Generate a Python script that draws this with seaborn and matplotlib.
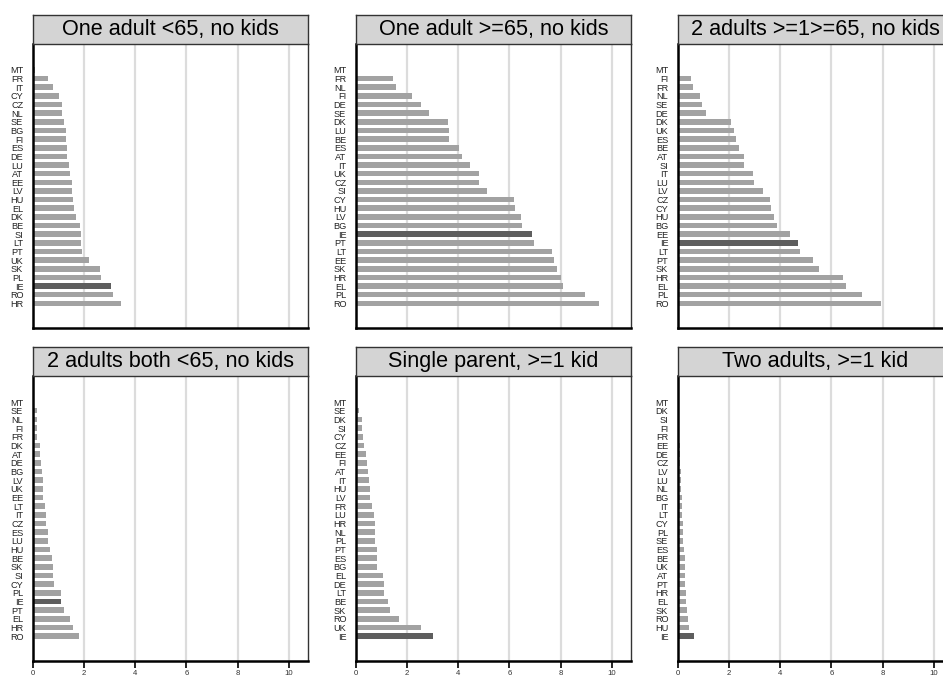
import matplotlib
matplotlib.use("Agg")
import matplotlib.pyplot as plt
import seaborn as sns
import pandas as pd

# ---------------- data ----------------
panel_titles = [
    "One adult <65, no kids",
    "One adult >=65, no kids",
    "2 adults >=1>=65, no kids",
    "2 adults both <65, no kids",
    "Single parent, >=1 kid",
    "Two adults, >=1 kid",
]

p1_countries = ["MT", "FR", "IT", "CY", "CZ", "NL", "SE", "BG", "FI", "ES", "DE", "LU", "AT", "EE",
                "LV", "HU", "EL", "DK", "BE", "SI", "LT", "PT", "UK", "SK", "PL", "IE", "RO", "HR"]
p1_values = [0.07, 0.60, 0.78, 1.03, 1.12, 1.14, 1.22, 1.30, 1.30, 1.32, 1.34, 1.42, 1.46, 1.51,
             1.54, 1.55, 1.62, 1.67, 1.82, 1.86, 1.88, 1.93, 2.17, 2.61, 2.67, 3.03, 3.12, 3.43]

p2_countries = ["MT", "FR", "NL", "FI", "DE", "SE", "DK", "LU", "BE", "ES", "AT", "IT", "UK", "CZ",
                "SI", "CY", "HU", "LV", "BG", "IE", "PT", "LT", "EE", "SK", "HR", "EL", "PL", "RO"]
p2_values = [0.0, 1.43, 1.55, 2.17, 2.53, 2.84, 3.59, 3.63, 3.64, 4.04, 4.16, 4.46, 4.82, 4.82,
             5.13, 6.17, 6.20, 6.46, 6.49, 6.87, 6.97, 7.67, 7.74, 7.86, 8.00, 8.10, 8.96, 9.49]

p3_countries = ["MT", "FI", "FR", "NL", "SE", "DE", "DK", "UK", "ES", "BE", "AT", "SI", "IT", "LU",
                "LV", "CZ", "CY", "HU", "BG", "EE", "IE", "LT", "PT", "SK", "HR", "EL", "PL", "RO"]
p3_values = [0.0, 0.52, 0.57, 0.87, 0.95, 1.11, 2.07, 2.20, 2.26, 2.38, 2.58, 2.58, 2.94, 2.98,
             3.31, 3.60, 3.64, 3.74, 3.88, 4.37, 4.70, 4.77, 5.28, 5.52, 6.44, 6.56, 7.18, 7.95]

p4_countries = ["MT", "SE", "NL", "FI", "FR", "DK", "AT", "DE", "BG", "LV", "UK", "EE", "LT", "IT",
                "CZ", "ES", "LU", "HU", "BE", "SK", "SI", "CY", "PL", "IE", "PT", "EL", "HR", "RO"]
p4_values = [0.0, 0.16, 0.16, 0.16, 0.15, 0.26, 0.28, 0.32, 0.36, 0.39, 0.39, 0.39, 0.47, 0.50,
             0.51, 0.59, 0.59, 0.67, 0.75, 0.79, 0.79, 0.83, 1.08, 1.08, 1.22, 1.46, 1.58, 1.78]

p5_countries = ["MT", "SE", "DK", "SI", "CY", "CZ", "EE", "FI", "AT", "IT", "HU", "LV", "FR", "LU",
                "HR", "NL", "PL", "PT", "ES", "BG", "EL", "DE", "LT", "BE", "SK", "RO", "UK", "IE"]
p5_values = [0.0, 0.13, 0.24, 0.25, 0.28, 0.32, 0.39, 0.43, 0.47, 0.51, 0.55, 0.55, 0.63, 0.71,
             0.75, 0.75, 0.75, 0.82, 0.84, 0.84, 1.07, 1.11, 1.11, 1.26, 1.34, 1.67, 2.53, 3.00]

p6_countries = ["MT", "DK", "SI", "FI", "FR", "EE", "DE", "CZ", "LV", "LU", "NL", "BG", "IT", "LT",
                "CY", "PL", "SE", "ES", "BE", "UK", "AT", "PT", "HR", "EL", "SK", "RO", "HU", "IE"]
p6_values = [0.0, 0.05, 0.05, 0.05, 0.05, 0.07, 0.07, 0.07, 0.11, 0.11, 0.11, 0.16, 0.16, 0.16,
             0.20, 0.20, 0.20, 0.24, 0.28, 0.28, 0.29, 0.29, 0.32, 0.32, 0.36, 0.40, 0.44, 0.64]

x_ticks = [0, 2, 4, 6, 8, 10]
x_tick_labels = ["0", "2", "4", "6", "8", "10"]
highlight = "IE"

panels = [
    (p1_countries, p1_values),
    (p2_countries, p2_values),
    (p3_countries, p3_values),
    (p4_countries, p4_values),
    (p5_countries, p5_values),
    (p6_countries, p6_values),
]

# ---------------- style ----------------
sns.set_theme(style="white")
plt.rcParams["font.family"] = ["Liberation Sans", "DejaVu Sans"]

W, H = 943, 680
fig = plt.figure(figsize=(W / 100, H / 100), dpi=100)

col_left = [33, 356, 678]
panel_w = 275
rows = [  # (strip_top, strip_bottom, panel_bottom) in pixels from top
    (15, 44, 328),
    (347, 376, 661),
]

bar_color = "#a2a2a2"
hi_color = "#5e5e5e"

for i, (countries, values) in enumerate(panels):
    r, c = divmod(i, 3)
    s_top, s_bot, p_bot = rows[r]
    x0 = col_left[c]
    ax = fig.add_axes([x0 / W, 1 - p_bot / H, panel_w / W, (p_bot - s_bot) / H])
    sax = fig.add_axes([x0 / W, 1 - s_bot / H, panel_w / W, (s_bot - s_top) / H])

    df = pd.DataFrame({"country": countries, "value": values})
    df["grp"] = ["hi" if cc == highlight else "lo" for cc in countries]
    sns.barplot(data=df, x="value", y="country", hue="grp", order=countries,
                palette={"hi": hi_color, "lo": bar_color}, dodge=False,
                legend=False, width=0.64, ax=ax, saturation=1, linewidth=0)

    ax.set_xlim(0, 10.75)
    ax.set_ylim(29.85, -3.0)
    ax.set_xticks(x_ticks)
    ax.set_xlabel("")
    ax.set_ylabel("")
    ax.grid(axis="x", color="#dcdcdc", linewidth=1.6)
    ax.grid(axis="y", visible=False)
    ax.set_axisbelow(True)
    ax.tick_params(axis="y", length=0, pad=7, labelsize=6.6, labelcolor="#222222")
    if r == 1:
        ax.set_xticklabels(x_tick_labels)
        ax.tick_params(axis="x", bottom=True, length=5, width=1.2, color="black",
                       labelsize=5.6, labelcolor="#333333", pad=1.2)
    else:
        ax.set_xticklabels([])
        ax.tick_params(axis="x", bottom=False, length=0)
    for side in ["left", "bottom"]:
        ax.spines[side].set_color("black")
        ax.spines[side].set_linewidth(1.8)
    ax.spines["right"].set_color("#333333")
    ax.spines["right"].set_linewidth(1.0)
    ax.spines["top"].set_visible(False)

    sax.set_facecolor("#d4d4d4")
    sax.set_xticks([])
    sax.set_yticks([])
    for sp in sax.spines.values():
        sp.set_color("#333333")
        sp.set_linewidth(1.0)
        sp.set_visible(True)
    sax.text(0.5, 0.5, panel_titles[i], ha="center", va="center",
             fontsize=15.6, color="black", transform=sax.transAxes, clip_on=False)

fig.savefig("out.png", dpi=100)
